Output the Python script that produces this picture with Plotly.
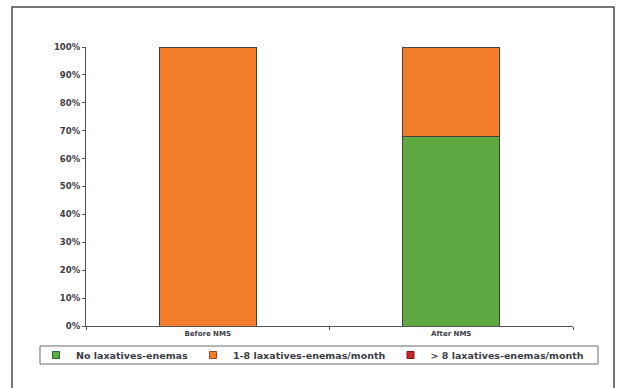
import plotly.graph_objects as go

# Share of patients by laxative/enema use, before and after NMS
categories = ["Before NMS", "After NMS"]
no_laxatives = [0, 68]
laxatives_1_8 = [100, 32]
laxatives_over_8 = [0, 0]
y_ticks = [0, 10, 20, 30, 40, 50, 60, 70, 80, 90, 100]
y_tick_labels = [f"{v}%" for v in y_ticks]

series_names = ["No laxatives-enemas", "1-8 laxatives-enemas/month", "> 8 laxatives-enemas/month"]
fill_colors = ["#5EA942", "#F47D2B", "#C7262C"]
edge_colors = ["#1F6B34", "#9A4A1A", "#7A1518"]

FONT = "DejaVu Sans"
TEXT = "#3C3C46"

fig = go.Figure()

# stacked bars
for name, vals, fc in zip(series_names, [no_laxatives, laxatives_1_8, laxatives_over_8], fill_colors):
    fig.add_trace(go.Bar(
        x=categories, y=vals, name=name,
        marker=dict(color=fc, line=dict(color="#4A4038", width=1)),
        width=0.4, showlegend=False,
    ))

# compact square legend keys
for name, fc, ec in zip(series_names, fill_colors, edge_colors):
    fig.add_trace(go.Scatter(
        x=[None], y=[None], mode="markers", name=name,
        marker=dict(symbol="square", size=7, color=fc, line=dict(color=ec, width=1)),
        showlegend=True,
    ))

W, H = 617, 388
L, R, T, B = 86, 44, 47, 62
pw, ph = W - L - R, H - T - B

def px_x(x):
    return (x - L) / pw

def px_y(y):
    return (H - B - y) / ph

# outer frame
fig.add_shape(type="rect", xref="paper", yref="paper",
              x0=px_x(12), x1=px_x(614), y0=px_y(400), y1=px_y(7),
              line=dict(color="#4A4A4A", width=1.5), fillcolor="rgba(0,0,0,0)", layer="below")
# legend box
fig.add_shape(type="rect", xref="paper", yref="paper",
              x0=px_x(40), x1=px_x(598), y0=px_y(364), y1=px_y(346),
              line=dict(color="#6A6A6A", width=1), fillcolor="rgba(0,0,0,0)")

fig.update_layout(
    width=W, height=H,
    margin=dict(l=L, r=R, t=T, b=B),
    barmode="stack",
    paper_bgcolor="white", plot_bgcolor="white",
    font=dict(family=FONT, color=TEXT),
    showlegend=True,
    legend=dict(
        orientation="h", xref="paper", yref="paper",
        x=px_x(36), y=px_y(355), xanchor="left", yanchor="middle",
        font=dict(family=FONT, size=9.5, color=TEXT, weight="bold"),
        itemwidth=30, bgcolor="rgba(0,0,0,0)", borderwidth=0,
        traceorder="normal", tracegroupgap=0,
    ),
    xaxis=dict(
        type="category", showgrid=False, zeroline=False,
        showline=True, linecolor="#555555", linewidth=1.2,
        ticks="outside", tickson="boundaries", ticklen=3, tickcolor="#555555",
        tickfont=dict(family=FONT, size=7, color=TEXT, weight="bold"),
    ),
    yaxis=dict(
        range=[0, 100], showgrid=False, zeroline=False,
        showline=True, linecolor="#555555", linewidth=1.2,
        ticks="outside", ticklen=3, tickcolor="#555555",
        tickvals=y_ticks, ticktext=y_tick_labels,
        tickfont=dict(family=FONT, size=8.5, color=TEXT, weight="bold"),
    ),
)

fig.write_html("out.html")
